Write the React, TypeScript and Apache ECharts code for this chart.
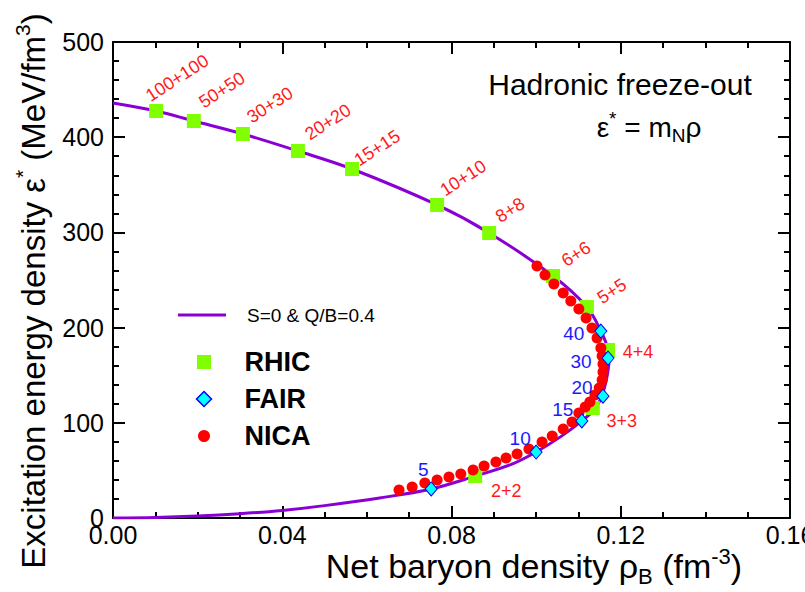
import React, { useEffect, useRef } from "react";
import * as echarts from "echarts";

// ---- data ----
const curveRho = [0, 0.0102, 0.0191, 0.0307, 0.0437, 0.0565, 0.0766, 0.0889, 0.104, 0.112, 0.1153, 0.117, 0.1172, 0.1166, 0.1155, 0.114, 0.1108, 0.106, 0.1, 0.094, 0.0856, 0.0752, 0.063, 0.05, 0.04, 0.03, 0.02, 0.01, 0];
const curveEps = [436, 427.5, 417, 403.4, 385.5, 366.6, 328.8, 299.4, 254.2, 221.6, 196.4, 176.5, 165, 145, 128, 115, 102, 86, 69.3, 56, 44, 30.5, 21, 13, 8, 4.5, 2, 0.5, 0];

const rhicLabels = ["100+100", "50+50", "30+30", "20+20", "15+15", "10+10", "8+8", "6+6", "5+5", "4+4", "3+3", "2+2"];
const rhicRho = [0.0102, 0.0191, 0.0307, 0.0437, 0.0565, 0.0766, 0.0889, 0.104, 0.112, 0.117, 0.1134, 0.0856];
const rhicEps = [427.5, 417, 403.4, 385.5, 366.6, 328.8, 299.4, 254.2, 221.6, 176.5, 115.5, 44.1];

const fairLabels = ["5", "10", "15", "20", "30", "40"];
const fairRho = [0.0752, 0.1, 0.1108, 0.1158, 0.117, 0.1153];
const fairEps = [30.5, 69.3, 102, 128, 168, 196.4];

const nicaRho = [0.1002, 0.1021, 0.1042, 0.1064, 0.1082, 0.1101, 0.1118, 0.1132, 0.1144, 0.1153, 0.1156, 0.1158, 0.1158, 0.1156, 0.1149, 0.1139, 0.1127, 0.1116, 0.1101, 0.1085, 0.1064, 0.1038, 0.1014, 0.0983, 0.0955, 0.0929, 0.0905, 0.0877, 0.0851, 0.0822, 0.0794, 0.0766, 0.0737, 0.0707, 0.0676];
const nicaEps = [264.7, 255.3, 245.8, 236.3, 227.9, 219.5, 210.1, 199.6, 189.1, 178.6, 170.2, 161.8, 153.4, 145.0, 136.6, 129.2, 121.8, 116.6, 110.3, 100.8, 93.5, 86.1, 79.8, 72.5, 67.2, 63.0, 58.8, 54.6, 50.4, 46.2, 43.1, 39.9, 36.8, 32.6, 29.4];

const xTicks = { min: 0, max: 0.16, interval: 0.04 };
const yTicks = { min: 0, max: 500, interval: 100 };

// ---- label placement (styling, in pixels relative to marker) ----
const rhicLabelDx = [21, 28, 27, 30, 25, 26, 21, 23, 25, 30, 29, 31];
const rhicLabelDy = [-33, -31, -29, -29, -21, -27, -23, -22, -16, 2, 13, 15];
const rhicLabelRot = [33, 33, 33, 33, 33, 33, 33, 33, 33, 0, 0, 0];
const fairLabelDx = [-8, -16, -19, -21, -27, -27];
const fairLabelDy = [-19, -14, -11, -9, 3, 2];

const FONT = "'Liberation Sans', Arial, Helvetica, sans-serif";
const PURPLE = "#8A00D4";
const GREEN = "#80FF00";
const CYAN = "#00FFFF";
const BLUE = "#0000FF";
const RED = "#FF0000";

export default function App() {
  const ref = useRef<HTMLDivElement>(null);
  useEffect(() => {
    if (!ref.current) return;
    const chart = echarts.init(ref.current, null, { renderer: "svg" });

    const axisCommon = {
      type: "value",
      axisLine: { show: true, onZero: false, lineStyle: { color: "#000", width: 2 } },
      axisTick: { show: true, inside: true, length: 12, lineStyle: { color: "#000", width: 2 } },
      splitLine: { show: false },
    };

    const legendText = (size: number, bold: boolean, lh: number, padLeft: number) => ({
      fontSize: size,
      fontWeight: bold ? "bold" : "normal",
      lineHeight: lh,
      fontFamily: FONT,
      color: "#000",
      padding: [0, 0, 0, padLeft],
    });

    const option: any = {
      animation: false,
      grid: { left: 113, right: 15, top: 42, bottom: 74, containLabel: false, outerBoundsMode: "none" },
      xAxis: [
        {
          ...axisCommon,
          ...xTicks,
          position: "bottom",
          minorTick: { show: true, splitNumber: 4, length: 6, lineStyle: { color: "#000", width: 2 } },
          axisLabel: { fontSize: 25, color: "#000", fontFamily: FONT, margin: 4, formatter: (v: number) => v.toFixed(2) },
        },
        {
          ...axisCommon,
          ...xTicks,
          position: "top",
          minorTick: { show: true, splitNumber: 4, length: 6, lineStyle: { color: "#000", width: 2 } },
          axisLabel: { show: false },
        },
      ],
      yAxis: [
        {
          ...axisCommon,
          ...yTicks,
          position: "left",
          minorTick: { show: true, splitNumber: 5, length: 6, lineStyle: { color: "#000", width: 2 } },
          axisLabel: { fontSize: 25, color: "#000", fontFamily: FONT, margin: 9 },
        },
        {
          ...axisCommon,
          ...yTicks,
          position: "right",
          minorTick: { show: true, splitNumber: 5, length: 6, lineStyle: { color: "#000", width: 2 } },
          axisLabel: { show: false },
        },
      ],
      legend: [
        {
          orient: "vertical",
          left: 178,
          top: 305,
          padding: 0,
          itemWidth: 48,
          itemHeight: 14,
          selectedMode: false,
          data: [
            { name: "S=0 & Q/B=0.4", icon: "path://M0,0H48V3H0Z", textStyle: legendText(19, false, 20, 16) },
          ],
        },
        {
          orient: "vertical",
          left: 195,
          top: 347,
          padding: 0,
          itemGap: 7,
          itemWidth: 15,
          itemHeight: 15,
          selectedMode: false,
          data: [
            { name: "RHIC", icon: "rect", textStyle: legendText(27, true, 30, 28), itemStyle: { borderColor: "#fff", borderWidth: 1 } },
            { name: "FAIR", icon: "diamond", textStyle: legendText(27, true, 30, 28), itemStyle: { borderColor: BLUE, borderWidth: 1.5 } },
            { name: "NICA", icon: "circle", textStyle: legendText(27, true, 30, 28), itemStyle: { borderColor: "#fff", borderWidth: 3 } },
          ],
        },
      ],
      series: [
        {
          name: "S=0 & Q/B=0.4",
          type: "line",
          data: curveRho.map((r, i) => [r, curveEps[i]]),
          smooth: 0.35,
          symbol: "none",
          lineStyle: { color: PURPLE, width: 3 },
          itemStyle: { color: PURPLE },
          z: 1,
        },
        {
          name: "RHIC",
          type: "scatter",
          data: rhicRho.map((r, i) => [r, rhicEps[i]]),
          symbol: "rect",
          symbolSize: 14,
          itemStyle: { color: GREEN, opacity: 1 },
          z: 2,
        },
        {
          name: "NICA",
          type: "scatter",
          data: nicaRho.map((r, i) => [r, nicaEps[i]]),
          symbol: "circle",
          symbolSize: 11,
          itemStyle: { color: RED, opacity: 1 },
          z: 3,
        },
        {
          name: "FAIR",
          type: "scatter",
          data: fairRho.map((r, i) => [r, fairEps[i]]),
          symbol: "diamond",
          symbolSize: [12, 14],
          itemStyle: { color: CYAN, borderColor: BLUE, borderWidth: 1, opacity: 1 },
          z: 4,
        },
      ],
    };
    chart.setOption(option);

    const staticGraphics: any[] = [
      {
        type: "text",
        x: 620,
        y: 84,
        style: { text: "Hadronic freeze-out", fontSize: 30, fontFamily: FONT, fill: "#000", align: "center", verticalAlign: "middle", textAlign: "center", textVerticalAlign: "middle" },
      },
      {
        type: "text",
        x: 649,
        y: 127,
        style: {
          text: "ε{sup|*} = m{sub|N}ρ",
          fontSize: 28,
          fontFamily: FONT,
          lineHeight: 36,
          fill: "#000",
          align: "center",
          verticalAlign: "middle",
          textAlign: "center",
          textVerticalAlign: "middle",
          rich: {
            sup: { fontSize: 19, lineHeight: 20, verticalAlign: "top", fontFamily: FONT, fill: "#000" },
            sub: { fontSize: 19, lineHeight: 18, verticalAlign: "bottom", fontFamily: FONT, fill: "#000" },
          },
        },
      },
      {
        type: "text",
        x: 534,
        y: 566,
        style: {
          text: "Net baryon density ρ{sub|B} (fm{sup|-3})",
          fontSize: 34,
          fontFamily: FONT,
          lineHeight: 42,
          fill: "#000",
          align: "center",
          verticalAlign: "middle",
          textAlign: "center",
          textVerticalAlign: "middle",
          rich: {
            sup: { fontSize: 22, lineHeight: 21, verticalAlign: "top", fontFamily: FONT, fill: "#000" },
            sub: { fontSize: 22, lineHeight: 21, verticalAlign: "bottom", fontFamily: FONT, fill: "#000" },
          },
        },
      },
      {
        type: "text",
        x: 33,
        y: 291,
        rotation: Math.PI / 2,
        style: {
          text: "Excitation energy density ε{sup|*} (MeV/fm{sup|3})",
          fontSize: 33,
          fontFamily: FONT,
          lineHeight: 42,
          fill: "#000",
          align: "center",
          verticalAlign: "middle",
          textAlign: "center",
          textVerticalAlign: "middle",
          rich: {
            sup: { fontSize: 21, lineHeight: 21, verticalAlign: "top", fontFamily: FONT, fill: "#000" },
          },
        },
      },
    ];

    const labelGraphics: any[] = [];
    rhicRho.forEach((r, i) => {
      const p = chart.convertToPixel({ gridIndex: 0 }, [r, rhicEps[i]]) as number[];
      labelGraphics.push({
        type: "text",
        x: p[0] + rhicLabelDx[i],
        y: p[1] + rhicLabelDy[i],
        rotation: (rhicLabelRot[i] * Math.PI) / 180,
        z: 10,
        style: { text: rhicLabels[i], fontSize: 18, fontFamily: FONT, fill: "#FF1A1A", align: "center", verticalAlign: "middle", textAlign: "center", textVerticalAlign: "middle" },
      });
    });
    fairRho.forEach((r, i) => {
      const p = chart.convertToPixel({ gridIndex: 0 }, [r, fairEps[i]]) as number[];
      labelGraphics.push({
        type: "text",
        x: p[0] + fairLabelDx[i],
        y: p[1] + fairLabelDy[i],
        z: 10,
        style: { text: fairLabels[i], fontSize: 19, fontFamily: FONT, fill: "#1A1AFF", align: "center", verticalAlign: "middle", textAlign: "center", textVerticalAlign: "middle" },
      });
    });

    chart.setOption({ graphic: [...staticGraphics, ...labelGraphics] });

    return () => chart.dispose();
  }, []);

  return <div ref={ref} style={{ position: "absolute", left: 0, top: 0, width: 805, height: 592, background: "#fff" }} />;
}
